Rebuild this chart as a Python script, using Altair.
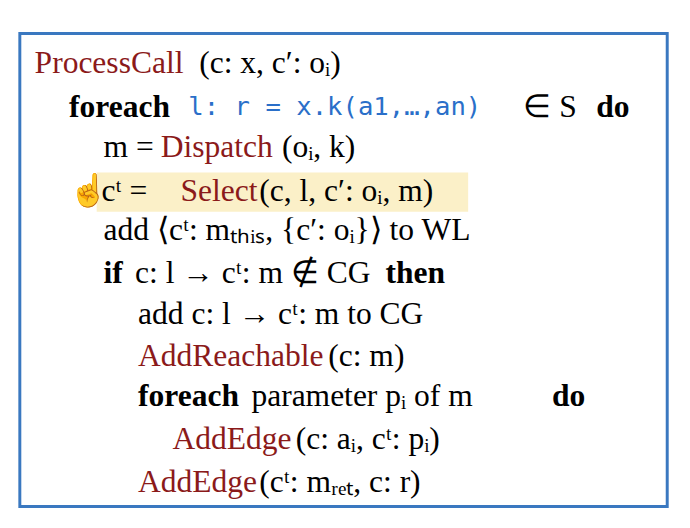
import altair as alt
import pandas as pd

# pseudocode lines: text, style, line number, left position
seg_text = ["ProcessCall", "(c: x, c′: oᵢ)",
            "foreach", "l: r = x.k(a1,…,an)", "∈ S", "do",
            "m =", "Dispatch", "(oᵢ, k)",
            "☝", "cᵗ =", "Select", "(c, l, c′: oᵢ, m)",
            "add ⟨cᵗ: mₜₕᵢₛ, {c′: oᵢ}⟩ to WL",
            "if", "c: l → cᵗ: m ∉ CG", "then",
            "add c: l → cᵗ: m to CG",
            "AddReachable", "(c: m)",
            "foreach", "parameter pᵢ of m", "do",
            "AddEdge", "(c: aᵢ, cᵗ: pᵢ)",
            "AddEdge", "(cᵗ: mᵣₑₜ, c: r)"]
seg_style = ["func", "plain",
             "kw", "code", "plain", "kw",
             "plain", "func", "plain",
             "plain", "plain", "func", "plain",
             "plain",
             "kw", "plain", "kw",
             "plain",
             "func", "plain",
             "kw", "plain", "kw",
             "func", "plain",
             "func", "plain"]
seg_line = [1, 1, 2, 2, 2, 2, 3, 3, 3, 4, 4, 4, 4, 5, 6, 6, 6, 7, 8, 8, 9, 9, 9, 10, 10, 11, 11]
seg_x = [22, 189, 57, 178, 518, 592, 92, 150, 273, 57, 90, 170, 250, 92,
         92, 124, 378, 127, 127, 320, 127, 242, 547, 162, 287, 127, 250]
line_y = [0, 47, 92, 132, 177, 217, 260, 302, 344, 385, 429, 472]

df = pd.DataFrame({"text": seg_text, "style": seg_style,
                   "x": seg_x, "y": [line_y[i] for i in seg_line]})

W, H = 674, 512
xs = alt.Scale(domain=[0, W], range=[0, W])
ys = alt.Scale(domain=[0, H], range=[0, H])

box = alt.Chart(pd.DataFrame({"x": [7], "x2": [664], "y": [17], "y2": [497]})).mark_rect(
    fill="white", stroke="#3a78c0", strokeWidth=3
).encode(x=alt.X("x:Q", scale=xs, axis=None), x2="x2:Q",
         y=alt.Y("y:Q", scale=ys, axis=None), y2="y2:Q")

hl = alt.Chart(pd.DataFrame({"x": [85], "x2": [462], "y": [158], "y2": [198]})).mark_rect(
    fill="#fbf0c8"
).encode(x=alt.X("x:Q", scale=xs), x2="x2:Q", y=alt.Y("y:Q", scale=ys), y2="y2:Q")

styles = {
    "func": dict(color="#8b1a1a", font="Liberation Serif", fontWeight="normal", fontSize=32),
    "plain": dict(color="black", font="Liberation Serif", fontWeight="normal", fontSize=32),
    "kw": dict(color="black", font="Liberation Serif", fontWeight="bold", fontSize=32),
    "code": dict(color="#2a6fc9", font="DejaVu Sans Mono", fontWeight="normal", fontSize=26),
}
layers = [box, hl]
for name, st in styles.items():
    layers.append(alt.Chart(df).transform_filter(alt.datum.style == name).mark_text(
        align="left", baseline="middle", **st
    ).encode(x=alt.X("x:Q", scale=xs), y=alt.Y("y:Q", scale=ys), text="text:N"))

chart = alt.layer(*layers).properties(width=W, height=H, autosize="none").configure_view(stroke=None)
chart.save("out.html", embed_options={"renderer": "svg", "actions": False})
